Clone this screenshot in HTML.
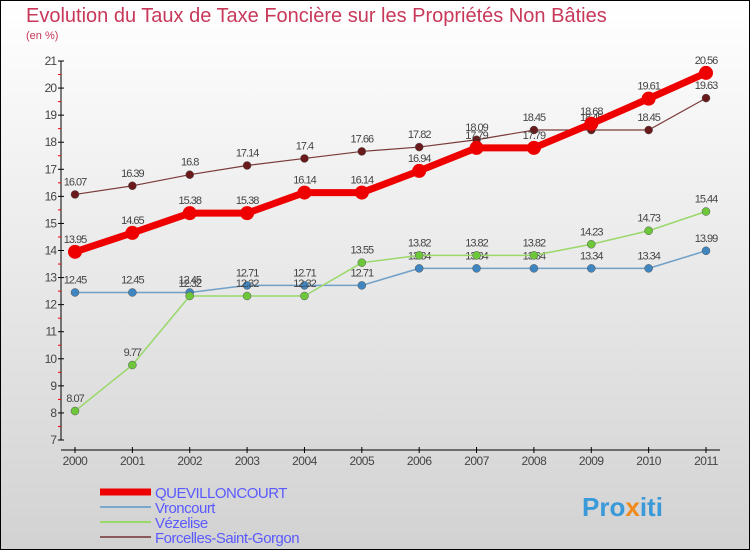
<!DOCTYPE html>
<html><head><meta charset="utf-8"><style>
body{margin:0;width:750px;height:550px;overflow:hidden;font-family:"Liberation Sans",sans-serif}
svg{display:block}
</style></head><body>
<svg id="chart" width="750" height="550" xmlns="http://www.w3.org/2000/svg">
<defs><linearGradient id="bg" x1="0" y1="0" x2="0" y2="1"><stop offset="0" stop-color="#ffffff"/><stop offset="1" stop-color="#d2d2d2"/></linearGradient></defs>
<rect x="0.5" y="0.5" width="749" height="549" fill="url(#bg)" stroke="#000"/>
<text x="26" y="22" font-size="20" fill="#c8385a">Evolution du Taux de Taxe Foncière sur les Propriétés Non Bâties</text>
<text x="26" y="39" font-size="11" fill="#c8385a">(en %)</text>
<g id="axes"></g><g id="series"></g><g id="legend"></g>
<text x="582" y="516" font-size="26" font-weight="bold" fill="#3a9ad9">Pro<tspan fill="#f08a1c">x</tspan>iti</text>
</svg>
<script>
const years=[2000,2001,2002,2003,2004,2005,2006,2007,2008,2009,2010,2011];
const yTicks=[7,8,9,10,11,12,13,14,15,16,17,18,19,20,21];
const quev=[13.95,14.65,15.38,15.38,16.14,16.14,16.94,17.79,17.79,18.68,19.61,20.56];
const vron=[12.45,12.45,12.45,12.71,12.71,12.71,13.34,13.34,13.34,13.34,13.34,13.99];
const vez=[8.07,9.77,12.32,12.32,12.32,13.55,13.82,13.82,13.82,14.23,14.73,15.44];
const forc=[16.07,16.39,16.8,17.14,17.4,17.66,17.82,18.09,18.45,18.45,18.45,19.63];
const names=["QUEVILLONCOURT","Vroncourt","Vézelise","Forcelles-Saint-Gorgon"];
const NS="http://www.w3.org/2000/svg";
const X=i=>75+i*(706-75)/(years.length-1);
const Y=v=>440-(v-7)*(440-61)/14;
function mk(t,a,p){const e=document.createElementNS(NS,t);for(const k in a)e.setAttribute(k,a[k]);p.appendChild(e);return e;}
const ax=document.getElementById('axes');
const yl=mk('line',{x1:61,y1:61,x2:61,y2:440,stroke:'#000'},ax);


yTicks.forEach(v=>{
 mk('line',{x1:58,y1:Y(v),x2:64,y2:Y(v),stroke:'#000'},ax);
 if(v<21)mk('line',{x1:58,y1:Y(v+0.5),x2:61,y2:Y(v+0.5),stroke:'#e00'},ax);
 const t=mk('text',{x:56,y:Y(v)+4,'font-size':12,fill:'#444','text-anchor':'end','letter-spacing':'-1'},ax);t.textContent=v;
 
 
});
const xl=mk('line',{x1:61,y1:450,x2:720,y2:450,stroke:'#000'},ax);


years.forEach((y,i)=>{
 mk('line',{x1:X(i),y1:447,x2:X(i),y2:453,stroke:'#000'},ax);
 const t=mk('text',{x:X(i),y:465,'font-size':12,fill:'#444','text-anchor':'middle','letter-spacing':'-0.5'},ax);t.textContent=y;
 
 
});
const sg=document.getElementById('series');
const defs=[[vron,'#6fa0c8','#3f86c0',1.5,4,'vroncourt'],[vez,'#9ad86a','#6cc83a',1.5,4,'vezelise'],[forc,'#7a3a3a','#6a1a1a',1.2,4,'forcelles'],[quev,'#ee0000','#ee0000',7,7,'quevilloncourt']];
defs.forEach(([d,lc,pc,w,r,n])=>{
 const g=mk('g',{},sg);
 
 
 mk('polyline',{points:d.map((v,i)=>X(i)+','+Y(v)).join(' '),fill:'none',stroke:lc,'stroke-width':w,'stroke-linejoin':'round'},g);
 d.forEach((v,i)=>{
  const c=mk('circle',{cx:X(i),cy:Y(v),r:r,fill:pc,stroke:r>5?'none':'#555','stroke-width':0.5},g);
  
  
  const t=mk('text',{x:X(i),y:Y(v)-9,'font-size':11,fill:'#444','text-anchor':'middle','letter-spacing':'-1'},g);t.textContent=v;
  
  
 });
});
const lg=document.getElementById('legend');
const lcol=['#ee0000','#7aa8cc','#9ad86a','#8a5a5a'];const lw=[7,2,2,2];
names.forEach((n,i)=>{
 const y=492+i*15;
 mk('line',{x1:100,y1:y,x2:151,y2:y,stroke:lcol[i],'stroke-width':lw[i]},lg);
 const t=mk('text',{x:155,y:y+6,'font-size':15,fill:'#5a5aff','letter-spacing':'-0.5'},lg);t.textContent=n;
 
 
});
</script>
</body></html>
